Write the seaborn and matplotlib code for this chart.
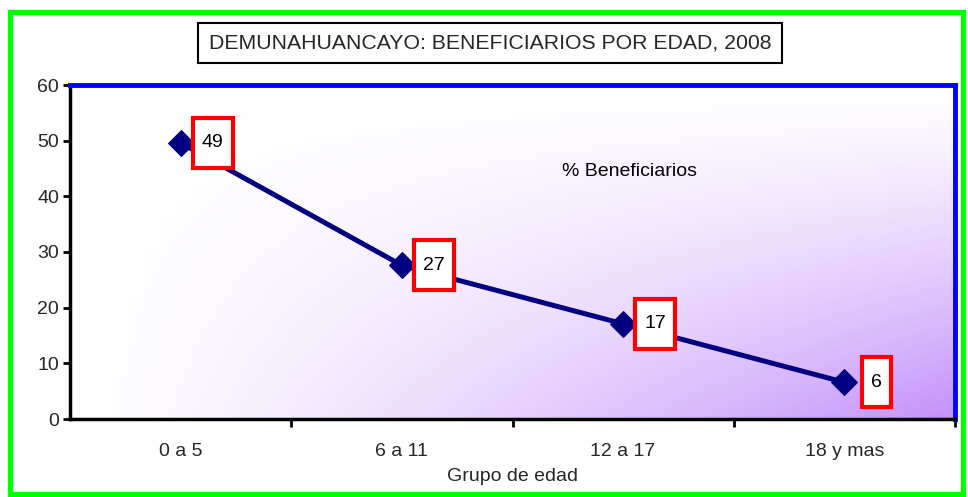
import numpy as np
import pandas as pd
import matplotlib
matplotlib.use("Agg")
import matplotlib.pyplot as plt
import seaborn as sns
from matplotlib.patches import Rectangle
from matplotlib.path import Path

categories = ["0 a 5", "6 a 11", "12 a 17", "18 y mas"]
values = [49.6, 27.6, 17.1, 6.6]
labels = ["49", "27", "17", "6"]
title = "DEMUNAHUANCAYO: BENEFICIARIOS POR EDAD, 2008"
xlabel = "Grupo de edad"
series_name = "% Beneficiarios"
yticks = [0, 10, 20, 30, 40, 50, 60]

sns.set_theme(style="white")
plt.rcParams['font.family'] = ['Liberation Sans', 'DejaVu Sans']

fig = plt.figure(figsize=(9.68, 4.97), dpi=100)
fig.patch.set_facecolor("white")
ax = fig.add_axes([70/968, 1-419/497, (955-70)/968, (419-85)/497])

# gradient background
nx, ny = 300, 200
gx = np.linspace(0, 1, nx)
gy = np.linspace(0, 1, ny)  # 0 top -> 1 bottom
X, Y = np.meshgrid(gx, gy)
t = np.clip(X * Y, 0, 1) ** 1.25
white = np.array([1.0, 1.0, 1.0])
purple = np.array([196, 145, 250]) / 255
img = white[None, None, :] * (1 - t[..., None]) + purple[None, None, :] * t[..., None]
ax.imshow(img, extent=[0, 1, 0, 1], transform=ax.transAxes, aspect="auto", zorder=0, origin="upper")

df = pd.DataFrame({"grupo": categories, "valor": values})
sns.lineplot(data=df, x="grupo", y="valor", ax=ax, color="#000080", linewidth=3.6,
             marker="D", markersize=13, markeredgecolor="#000080", zorder=3, sort=False)

def tallbox(x0, y0, width, height, mutation_size):
    padx = 0.47 * mutation_size
    pady = 0.85 * mutation_size
    xa, ya = x0 - padx, y0 - pady
    xb, yb = x0 + width + padx, y0 + height + pady
    return Path([(xa, ya), (xb, ya), (xb, yb), (xa, yb), (xa, ya)],
                [Path.MOVETO, Path.LINETO, Path.LINETO, Path.LINETO, Path.CLOSEPOLY])

for i, (v, lab) in enumerate(zip(values, labels)):
    ax.annotate(lab, xy=(i, v), xytext=(32, 0), textcoords="offset pixels",
                ha="center", va="center", fontsize=14, color="black", zorder=5,
                bbox=dict(boxstyle=tallbox, fc="white", ec="#FF0000", lw=3))

ax.text(2.03, 44.5, series_name, fontsize=14, ha="center", va="center", color="black")

ax.set_xlim(-0.5, 3.5)
ax.set_ylim(0, 60)
ax.set_yticks(yticks)
ax.set_xticks(range(len(categories)))
ax.set_xticklabels(categories, fontsize=14)
ax.set_xticks([0.5, 1.5, 2.5, 3.5], minor=True)
ax.tick_params(axis="x", which="major", length=0, pad=17, labelsize=14)
ax.tick_params(axis="x", which="minor", length=6, width=2, color="black", direction="out", bottom=True)
ax.tick_params(axis="y", which="major", length=5, width=2, color="black", direction="out", left=True, labelsize=14, pad=3)
ax.set_xlabel(xlabel, fontsize=14, labelpad=6)
ax.set_ylabel("")

for s in ["top", "right"]:
    ax.spines[s].set_color("#0000FF")
    ax.spines[s].set_linewidth(3.5)
for s in ["left", "bottom"]:
    ax.spines[s].set_color("black")
    ax.spines[s].set_linewidth(2.5)
    ax.spines[s].set_visible(True)
ax.spines["top"].set_visible(True)
ax.spines["right"].set_visible(True)

fig.text(490/968, 1-43/497, title, fontsize=15.3, ha="center", va="center",
         bbox=dict(boxstyle="square,pad=0.5", fc="white", ec="black", lw=1.5))

fig.patches.append(Rectangle((10/968, 3/497), (963-10)/968, (485-3)/497, transform=fig.transFigure,
                             fill=False, ec="#00FF00", lw=3.8, zorder=10))

fig.savefig("out.png", dpi=100, facecolor="white")
